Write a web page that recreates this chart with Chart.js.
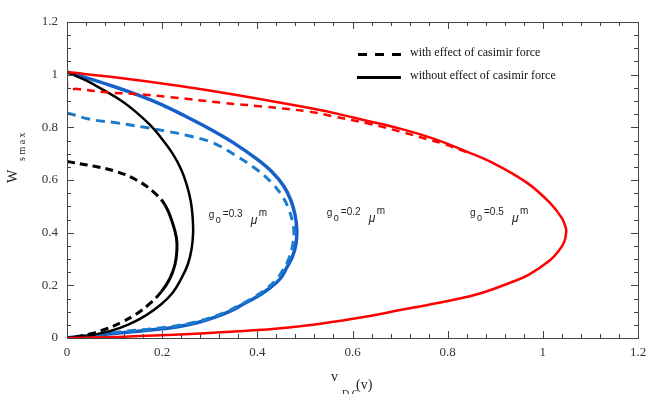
<!DOCTYPE html>
<html lang="en">
<head>
  <meta charset="UTF-8" />
  <title>W smax vs V DC</title>
  <script src="https://cdn.jsdelivr.net/npm/chart.js"></script>
  <style>
    body { margin: 0; background: #fff; }
    #wrap { width: 646px; height: 394px; }
  </style>
</head>
<body>
  <div id="wrap"><canvas id="chart" width="646" height="394"></canvas></div>

  <script>
    // axis ticks
    const xTicks = [0, 0.2, 0.4, 0.6, 0.8, 1, 1.2];
    const yTicks = [0, 0.2, 0.4, 0.6, 0.8, 1, 1.2];

    // g0 = 0.3 um (black)
    const blackSolidV = [0, 0.040, 0.076, 0.115, 0.147, 0.175, 0.200, 0.222, 0.240, 0.252, 0.260, 0.264, 0.265, 0.262, 0.254, 0.240, 0.222, 0.198, 0.165, 0.130, 0.090, 0.050, 0.013, 0];
    const blackSolidW = [1.01, 0.978, 0.942, 0.900, 0.855, 0.808, 0.755, 0.700, 0.640, 0.580, 0.520, 0.460, 0.400, 0.340, 0.280, 0.225, 0.172, 0.128, 0.085, 0.052, 0.026, 0.010, 0.002, 0];
    const blackDashV = [0, 0.055, 0.104, 0.146, 0.181, 0.206, 0.222, 0.230, 0.231, 0.227, 0.216, 0.198, 0.175, 0.145, 0.115, 0.085, 0.050, 0.020, 0];
    const blackDashW = [0.67, 0.653, 0.632, 0.600, 0.556, 0.505, 0.436, 0.380, 0.334, 0.280, 0.225, 0.175, 0.132, 0.090, 0.060, 0.036, 0.016, 0.005, 0];

    // g0 = 0.2 um (blue)
    const blueSolidV = [0, 0.050, 0.100, 0.150, 0.200, 0.250, 0.300, 0.350, 0.400, 0.430, 0.455, 0.470, 0.479, 0.483, 0.481, 0.474, 0.462, 0.448, 0.425, 0.399, 0.370, 0.343, 0.310, 0.273, 0.230, 0.180, 0.126, 0.070, 0.020, 0];
    const blueSolidW = [1.01, 0.983, 0.954, 0.922, 0.885, 0.841, 0.794, 0.741, 0.678, 0.632, 0.578, 0.525, 0.470, 0.410, 0.355, 0.310, 0.268, 0.225, 0.188, 0.157, 0.128, 0.102, 0.078, 0.058, 0.042, 0.031, 0.022, 0.012, 0.004, 0];
    const blueDashV = [0, 0.050, 0.100, 0.160, 0.210, 0.255, 0.307, 0.357, 0.400, 0.430, 0.452, 0.466, 0.474, 0.477, 0.474, 0.467, 0.455, 0.440, 0.418, 0.393, 0.365, 0.338, 0.305, 0.268, 0.225, 0.175, 0.120, 0.065, 0.020, 0];
    const blueDashW = [0.855, 0.830, 0.818, 0.801, 0.785, 0.768, 0.741, 0.690, 0.638, 0.590, 0.540, 0.490, 0.440, 0.400, 0.350, 0.305, 0.262, 0.222, 0.186, 0.155, 0.127, 0.102, 0.079, 0.060, 0.045, 0.034, 0.025, 0.014, 0.005, 0];

    // g0 = 0.5 um (red)
    const redSolidV = [0, 0.100, 0.237, 0.350, 0.490, 0.560, 0.630, 0.700, 0.770, 0.840, 0.895, 0.967, 1.015, 1.040, 1.048, 1.049, 1.045, 1.035, 1.015, 0.970, 0.930, 0.860, 0.770, 0.700, 0.630, 0.560, 0.490, 0.400, 0.237, 0.100, 0];
    const redSolidW = [1.01, 0.990, 0.957, 0.925, 0.880, 0.855, 0.825, 0.795, 0.757, 0.708, 0.665, 0.589, 0.513, 0.455, 0.420, 0.400, 0.365, 0.335, 0.295, 0.240, 0.209, 0.165, 0.130, 0.106, 0.082, 0.062, 0.045, 0.030, 0.013, 0.004, 0];
    const redDashV = [0, 0, 0.021, 0.076, 0.147, 0.216, 0.328, 0.412, 0.508, 0.559, 0.637, 0.700, 0.757, 0.790, 0.840];
    const redDashW = [0.975, 0.945, 0.946, 0.934, 0.926, 0.915, 0.893, 0.879, 0.860, 0.842, 0.813, 0.784, 0.755, 0.738, 0.706];

    const pts = (vs, ws) => vs.map((v, i) => ({ x: v, y: ws[i] }));

    const serif = "'Liberation Serif', 'Times New Roman', serif";
    const sans = "'Liberation Sans', Arial, sans-serif";

    function line(label, vs, ws, color, width, dash) {
      return {
        label: label,
        data: pts(vs, ws),
        showLine: true,
        borderColor: color,
        backgroundColor: color,
        borderWidth: width,
        borderDash: dash || [],
        pointRadius: 0,
        tension: 0.4,
        fill: false
      };
    }

    const blackDash = line('g0=0.3 with', blackDashV, blackDashW, '#000', 3, [8, 5]);
    // middle part of this curve is drawn solid in the original
    blackDash.segment = {
      borderDash: c => (c.p0.parsed.y < 0.51 && c.p1.parsed.y > 0.17) ? [] : [8, 5]
    };

    // frame, inward ticks, legend, labels and axis titles
    const decorations = {
      id: 'decorations',
      afterDatasetsDraw(chart) {
        const { ctx, chartArea: a, scales: { x, y } } = chart;
        ctx.save();
        ctx.strokeStyle = '#444';
        ctx.lineWidth = 1;
        ctx.strokeRect(Math.round(a.left) + 0.5, Math.round(a.top) + 0.5,
          Math.round(a.right - a.left), Math.round(a.bottom - a.top));
        ctx.beginPath();
        for (let i = 0; i <= 30; i++) {
          const px = Math.round(x.getPixelForValue(i * 0.04)) + 0.5;
          const len = i % 5 === 0 ? 7 : 4;
          ctx.moveTo(px, a.bottom); ctx.lineTo(px, a.bottom - len);
          ctx.moveTo(px, a.top); ctx.lineTo(px, a.top + len);
        }
        for (let i = 0; i <= 24; i++) {
          const py = Math.round(y.getPixelForValue(i * 0.05)) + 0.5;
          const len = i % 4 === 0 ? 7 : 4;
          ctx.moveTo(a.left, py); ctx.lineTo(a.left + len, py);
          ctx.moveTo(a.right, py); ctx.lineTo(a.right - len, py);
        }
        ctx.stroke();
        ctx.restore();
      },
      afterDraw(chart) {
        const { ctx, scales: { x, y } } = chart;
        ctx.save();
        ctx.fillStyle = '#111';

        // legend
        ctx.strokeStyle = '#000';
        ctx.lineWidth = 3;
        ctx.setLineDash([9, 8]);
        ctx.beginPath(); ctx.moveTo(358, 54.5); ctx.lineTo(401, 54.5); ctx.stroke();
        ctx.setLineDash([]);
        ctx.beginPath(); ctx.moveTo(357, 77.5); ctx.lineTo(401, 77.5); ctx.stroke();
        ctx.font = '12px ' + serif;
        ctx.textBaseline = 'alphabetic';
        ctx.fillText('with effect of casimir force', 410, 56);
        ctx.fillText('without effect of casimir force', 410, 79);

        // g0 labels
        const g0 = (v, w, txt) => {
          const px = x.getPixelForValue(v), b = y.getPixelForValue(w);
          ctx.fillStyle = '#222';
          ctx.font = '10px ' + sans;
          ctx.fillText('g', px, b);
          ctx.font = '9px ' + sans;
          ctx.fillText('0', px + 7, b + 5);
          ctx.font = '10px ' + sans;
          ctx.fillText('=' + txt, px + 14, b - 1);
          ctx.font = 'italic 12px ' + sans;
          ctx.fillText('\u03bc', px + 42, b + 6);
          ctx.font = '10px ' + sans;
          ctx.fillText('m', px + 50, b - 2);
        };
        g0(0.298, 0.456, '0.3');
        g0(0.546, 0.463, '0.2');
        g0(0.847, 0.463, '0.5');

        // axis titles
        ctx.fillStyle = '#222';
        ctx.save();
        ctx.translate(17, 183);
        ctx.rotate(-Math.PI / 2);
        ctx.font = '14px ' + serif;
        ctx.fillText('W', 0, 0);
        ctx.font = '10px ' + serif;
        ctx.fillText('s m a x', 22, 8);
        ctx.restore();

        ctx.font = '14px ' + serif;
        ctx.fillText('v', 331, 381);
        ctx.font = '10px ' + serif;
        ctx.fillText('D C', 342, 397);
        ctx.font = '14px ' + serif;
        ctx.fillText('(v)', 356, 389);
        ctx.restore();
      }
    };

    new Chart(document.getElementById('chart'), {
      type: 'scatter',
      data: {
        datasets: [
          line('g0=0.5 without', redSolidV, redSolidW, '#ff0000', 2.5),
          line('g0=0.5 with', redDashV, redDashW, '#ff0000', 2.5, [8, 6]),
          blackDash,
          line('g0=0.3 without', blackSolidV, blackSolidW, '#000', 2.5),
          line('g0=0.2 with', blueDashV, blueDashW, '#1c7ccc', 3, [9, 6]),
          line('g0=0.2 without', blueSolidV, blueSolidW, '#1560c8', 3.5)
        ]
      },
      options: {
        responsive: false,
        animation: false,
        layout: { padding: { top: 22, right: 8, left: 0, bottom: 0 } },
        plugins: { legend: { display: false }, tooltip: { enabled: false } },
        scales: {
          x: {
            type: 'linear', min: 0, max: 1.2,
            afterFit: s => { s.height = 56; s.paddingLeft = 0; s.paddingRight = 0; },
            afterBuildTicks: s => { s.ticks = xTicks.map(v => ({ value: v })); },
            grid: { display: false, drawTicks: false },
            border: { display: false },
            ticks: { color: '#333', padding: 7, maxRotation: 0, callback: v => String(v), font: { family: serif, size: 13 } }
          },
          y: {
            type: 'linear', min: 0, max: 1.2,
            afterFit: s => { s.width = 67; s.paddingTop = 0; s.paddingBottom = 0; },
            afterBuildTicks: s => { s.ticks = yTicks.map(v => ({ value: v })); },
            grid: { display: false, drawTicks: false },
            border: { display: false },
            ticks: { color: '#333', padding: 9, callback: v => String(v), font: { family: serif, size: 13 } }
          }
        }
      },
      plugins: [decorations]
    });
  </script>
</body>
</html>
